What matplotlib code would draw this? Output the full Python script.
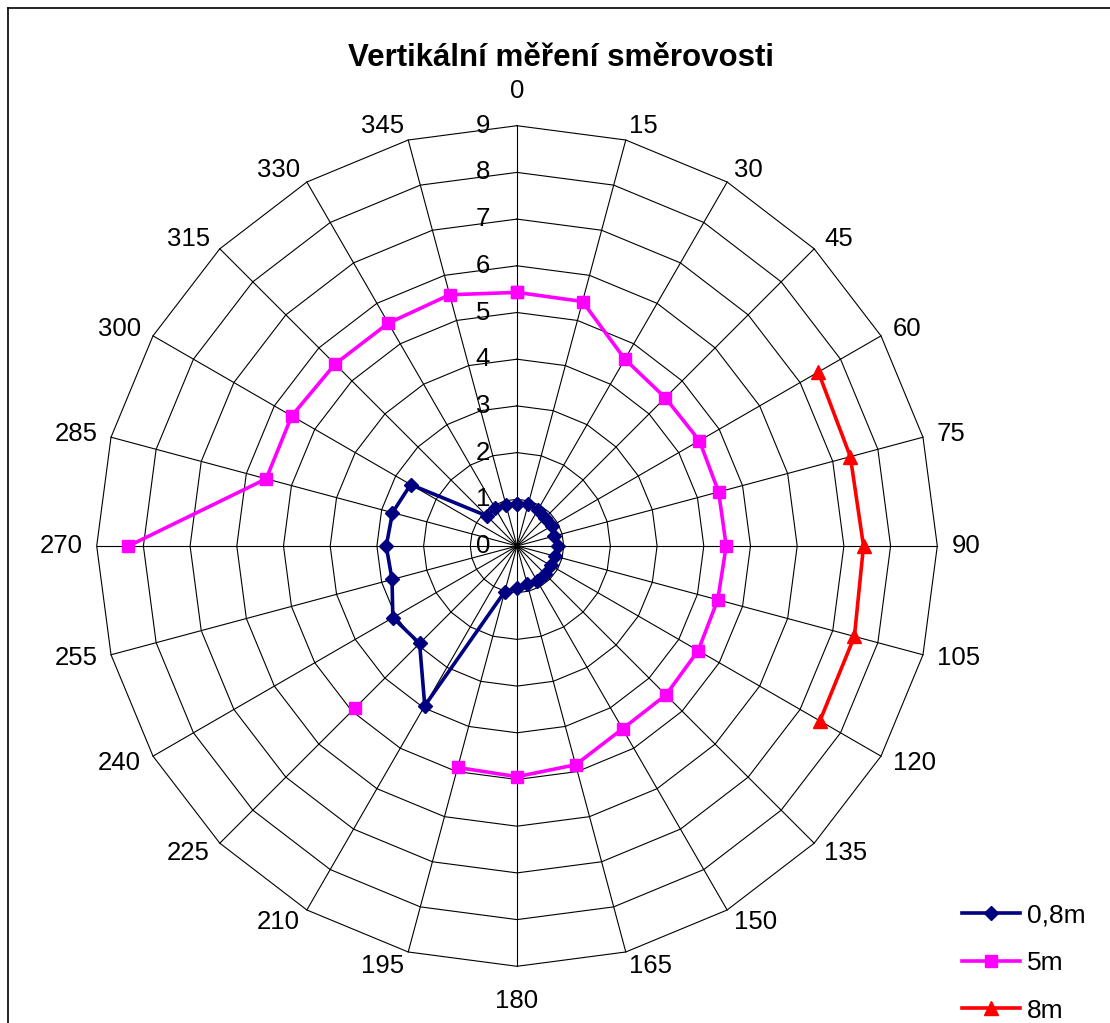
import numpy as np
import matplotlib
matplotlib.use('Agg')
import matplotlib.pyplot as plt
from matplotlib.lines import Line2D

# directions in degrees, clockwise from top
ANGLES = list(range(0, 360, 15))
ANGLE_LABELS = [str(a) for a in ANGLES]
R_TICKS = list(range(0, 10))

nan = np.nan
# 0,8m
S_08 = [0.91, 0.92, 0.90, 0.86, 0.86, 0.81, 0.87, 0.84, 0.83, 0.86, 0.87, 0.85,
        0.90, 1.01, 3.95, 2.95, 3.07, 2.77, 2.80, 2.76, 2.63, 0.91, 0.94, 0.91]
# 5m
S_5 = [5.43, 5.42, 4.62, 4.49, 4.51, 4.47, 4.48, 4.45, 4.48, 4.51, 4.52, 4.85,
       4.94, 4.91, nan, 4.91, nan, nan, 8.32, 5.56, 5.57, 5.51, 5.51, 5.57]
# 8m
S_8 = [nan, nan, nan, nan, 7.45, 7.39, 7.42, 7.48, 7.49, nan, nan, nan,
       nan, nan, nan, nan, nan, nan, nan, nan, nan, nan, nan, nan]

SERIES = [
    ("0,8m", S_08, "#000080", "D", 7),
    ("5m",   S_5,  "#FF00FF", "s", 9),
    ("8m",   S_8,  "#FF0000", "^", 10),
]

W, H = 1110, 1023
CX, CY = 517, 546          # centre in pixels
UNIT = 46.7                # pixels per radial unit
FS = 18.5

plt.rcParams['font.family'] = ['Liberation Sans', 'DejaVu Sans']

fig = plt.figure(figsize=(W / 100, H / 100), dpi=100, facecolor='white')
ax = fig.add_axes([0, 0, 1, 1])
ax.set_xlim(-CX / UNIT, (W - CX) / UNIT)
ax.set_ylim(-(H - CY) / UNIT, CY / UNIT)
ax.axis('off')

theta = np.deg2rad(ANGLES)
sx, cy = np.sin(theta), np.cos(theta)
rmax = R_TICKS[-1]

# polygon rings
for r in R_TICKS[1:]:
    xs = np.append(r * sx, r * sx[0])
    ys = np.append(r * cy, r * cy[0])
    ax.plot(xs, ys, color='black', lw=0.8, zorder=1)
# spokes
for s, c in zip(sx, cy):
    ax.plot([0, rmax * s], [0, rmax * c], color='black', lw=0.8, zorder=1)

# radial tick labels along the 0 axis
for r in R_TICKS:
    ax.text(-0.73, r, str(r), ha='center', va='center', fontsize=FS, zorder=2)

# direction labels
gap = 0.3
for a, lab, s, c in zip(ANGLES, ANGLE_LABELS, sx, cy):
    x, y = (rmax + gap) * s, (rmax + gap) * c
    if a in (0, 180):
        ha = 'center'
        y += 0.45 * np.sign(c)
    elif a < 180:
        ha = 'left'
    else:
        ha = 'right'
    ax.text(x, y, lab, ha=ha, va='center', fontsize=FS)

# data series
handles = []
for name, vals, col, mk, ms in SERIES:
    v = np.array(vals + [vals[0]], dtype=float)
    xs = v * np.append(sx, sx[0])
    ys = v * np.append(cy, cy[0])
    ax.plot(xs, ys, color=col, lw=2.6, marker=mk, markersize=ms,
            markerfacecolor=col, markeredgecolor=col, zorder=3)
    handles.append(Line2D([], [], color=col, lw=2.6, marker=mk, markersize=ms,
                          markerfacecolor=col, markeredgecolor=col))

fig.text(561 / W, 1 - 58 / H, 'Vertikální měření směrovosti', ha='center', va='center',
         fontsize=22.5, fontweight='bold')

fig.legend(handles, [s[0] for s in SERIES], loc='upper left',
           bbox_to_anchor=(962 / W, 1 - 903 / H), frameon=False, fontsize=19,
           handlelength=2.2, handletextpad=0.25, labelspacing=0.9, borderpad=0,
           borderaxespad=0)

# chart border (top and left visible)
fig.add_artist(Line2D([8 / W, 1], [1 - 8 / H, 1 - 8 / H], color='black', lw=1.2,
                      transform=fig.transFigure))
fig.add_artist(Line2D([8 / W, 8 / W], [0, 1 - 8 / H], color='black', lw=1.2,
                      transform=fig.transFigure))

fig.savefig('out.png', dpi=100, facecolor='white')
